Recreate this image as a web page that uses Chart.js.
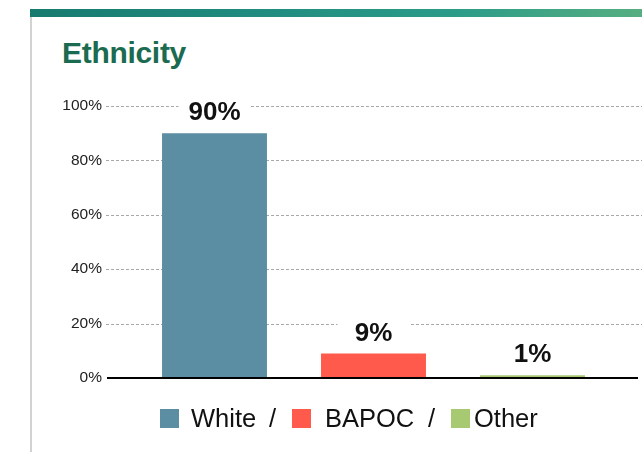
<!DOCTYPE html>
<html>
<head>
<meta charset="utf-8">
<script src="https://cdn.jsdelivr.net/npm/chart.js@4/dist/chart.umd.min.js"></script>
<style>
  html, body { margin: 0; padding: 0; background: #fff; }
  #wrap { position: relative; width: 642px; height: 452px; overflow: hidden; font-family: "Liberation Sans", Arial, Helvetica, sans-serif; }
  #topbar { position: absolute; left: 30px; top: 9px; width: 612px; height: 8px;
    background: linear-gradient(to right, #177a6f 0%, #218d80 40%, #2c9c89 70%, #57ae81 100%); }
  #leftline { position: absolute; left: 30px; top: 17px; width: 2px; height: 435px; background: #d2d2d2; }
  #title { position: absolute; left: 62px; top: 38px; font-size: 30px; line-height: 30px; font-weight: bold; color: #1b6b50; letter-spacing: -0.3px; }
  canvas { position: absolute; left: 0; top: 0; }
  .lg { position: absolute; font-size: 25.5px; line-height: 25.5px; color: #111; white-space: nowrap; }
  .sq { position: absolute; width: 19px; height: 19px; top: 409px; }
</style>
</head>
<body>
<div id="wrap">
  <div id="topbar"></div>
  <div id="leftline"></div>
  <div id="title">Ethnicity</div>
  <canvas id="c" width="642" height="452"></canvas>
  <div id="legend"></div>
</div>
<script>
const categories = ['White', 'BAPOC', 'Other'];
const values = [90, 9, 1];
const barColors = ['#5b8ea3', '#ff5a4b', '#a6c972'];
const yTickValues = [0, 20, 40, 60, 80, 100];

// Legend (HTML)
const legendLayout = [
  { sq: 160, text: 191, sep: 269 },
  { sq: 292, text: 325, sep: 428 },
  { sq: 451, text: 474, sep: null }
];
const legend = document.getElementById('legend');
categories.forEach((c, i) => {
  const L = legendLayout[i];
  const s = document.createElement('div');
  s.className = 'sq'; s.style.left = L.sq + 'px'; s.style.background = barColors[i];
  legend.appendChild(s);
  const t = document.createElement('div');
  t.className = 'lg'; t.style.left = L.text + 'px'; t.style.top = '406px'; t.textContent = c;
  legend.appendChild(t);
  if (L.sep !== null) {
    const p = document.createElement('div');
    p.className = 'lg'; p.style.left = L.sep + 'px'; p.style.top = '406px'; p.textContent = '/';
    legend.appendChild(p);
  }
});

const gridPlugin = {
  id: 'customGrid',
  beforeDatasetsDraw(chart) {
    const ctx = chart.ctx, y = chart.scales.y;
    ctx.save();
    ctx.strokeStyle = '#a8a8a8';
    ctx.lineWidth = 1;
    ctx.setLineDash([3, 2]);
    y.ticks.forEach(t => {
      if (t.value === 0) return;
      const py = Math.round(y.getPixelForValue(t.value)) + 0.5;
      ctx.beginPath();
      ctx.moveTo(106, py);
      ctx.lineTo(642, py);
      ctx.stroke();
    });
    ctx.restore();
  },
  afterDatasetsDraw(chart) {
    const ctx = chart.ctx, y = chart.scales.y;
    ctx.save();
    const base = y.getPixelForValue(0);
    ctx.fillStyle = '#000';
    ctx.fillRect(107, base - 1, 531, 2);
    const meta = chart.getDatasetMeta(0);
    ctx.font = 'bold 26px "Liberation Sans", Arial, sans-serif';
    ctx.textAlign = 'center';
    ctx.textBaseline = 'alphabetic';
    meta.data.forEach((el, i) => {
      const bl = el.y - 13;
      ctx.fillStyle = '#fff';
      ctx.fillRect(el.x - 36, bl - 24, 72, 29);
      ctx.fillStyle = '#111';
      ctx.fillText(values[i] + '%', el.x, bl);
    });
    ctx.restore();
  }
};

new Chart(document.getElementById('c'), {
  type: 'bar',
  data: {
    labels: categories,
    datasets: [{
      data: values,
      backgroundColor: barColors,
      borderWidth: 0,
      categoryPercentage: 1,
      barPercentage: 0.66
    }]
  },
  options: {
    responsive: false,
    animation: false,
    devicePixelRatio: 1,
    layout: { padding: { left: 0, right: 30, top: 106, bottom: 74 } },
    plugins: { legend: { display: false }, tooltip: { enabled: false }, title: { display: false } },
    scales: {
      x: { display: false },
      y: {
        min: 0, max: 100,
        afterFit(scale) { scale.width = 135; },
        afterBuildTicks(scale) { scale.ticks = yTickValues.map(v => ({ value: v })); },
        grid: { display: false, drawTicks: false },
        border: { display: false },
        ticks: {
          padding: 33,
          color: '#222',
          font: { family: '"Liberation Sans", Arial, sans-serif', size: 15.5 },
          callback: v => v + '%'
        }
      }
    }
  },
  plugins: [gridPlugin]
});
</script>
</body>
</html>
